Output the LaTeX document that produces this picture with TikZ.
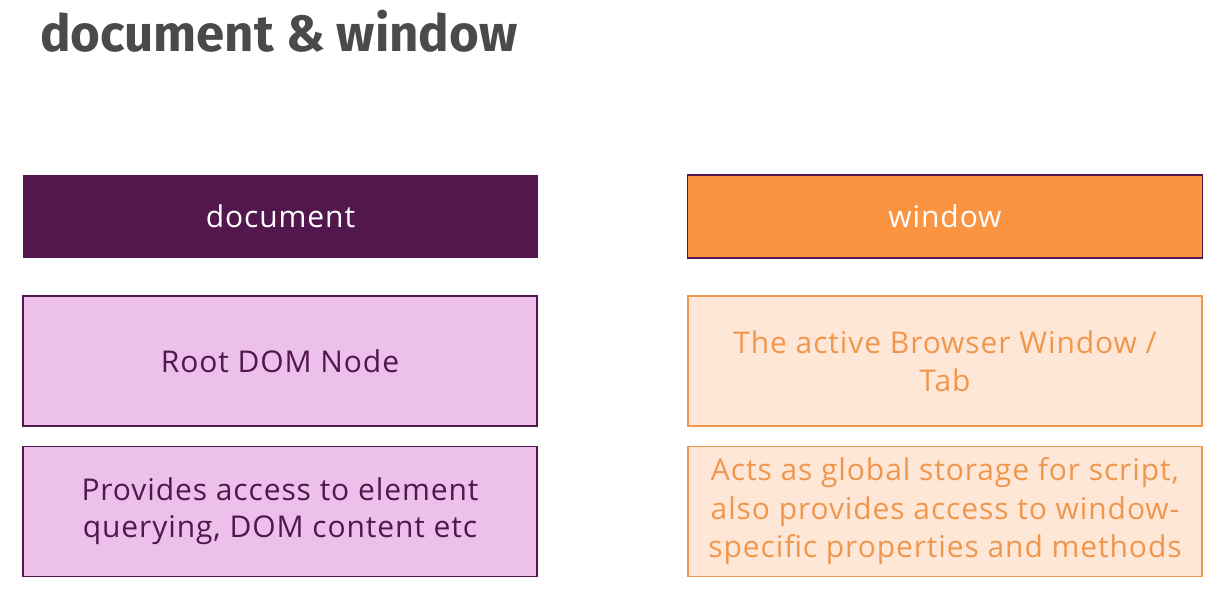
\documentclass[tikz,border=0pt]{standalone}
\usepackage{fontspec}
\setmainfont{Open Sans}[LetterSpace=3]
\newfontfamily\titlefont{Fira Sans}
\usetikzlibrary{positioning}

\definecolor{docpurple}{HTML}{52184E}
\definecolor{docpink}{HTML}{EDC0EB}
\definecolor{winorange}{HTML}{FB9441}
\definecolor{winpeach}{HTML}{FFE7D8}
\definecolor{winline}{HTML}{F0974E}
\definecolor{titlegray}{HTML}{4A4A4A}

\begin{document}
\begin{tikzpicture}[
		x=1pt, y=-1pt,
		title/.style ={font=\titlefont\bfseries\fontsize{51}{55}\selectfont,text=titlegray,anchor=base west,inner sep=0pt},
		header/.style={rectangle,minimum width=515pt,minimum height=83pt,inner sep=0pt,font=\fontsize{30}{34}\selectfont,text=white},
		docbody/.style={rectangle,draw=docpurple,line width=1.5pt,fill=docpink,minimum width=514pt,minimum height=130pt,
			inner sep=0pt,align=center,text=docpurple,font=\fontsize{30}{37}\selectfont},
		winbody/.style={rectangle,draw=winline,line width=1.8pt,fill=winpeach,minimum width=514pt,minimum height=130pt,
			inner sep=0pt,align=center,text=winline,font=\fontsize{30}{38.5}\selectfont}
		]

		% ---- page frame ----
		\useasboundingbox (0,0) rectangle (1224,596);

		% ---- title ----
		\node[title] (heading) at (40,52) {document \& window};

		% ---- column headers ----
		\node[header,fill=docpurple] (dochead) at (280.5,216.5) {document};
		\node[header,fill=winorange,draw=docpurple,line width=1.2pt] (winhead) at (945,216.5) {window};

		% ---- document column ----
		\node[docbody] (docroot)  at (280,361)   {Root DOM Node};
		\node[docbody] (docquery) at (280,511.5) {Provides access to element\\querying, DOM content etc};

		% ---- window column ----
		\node[winbody] (wintab)   at (945,361)   {The active Browser Window /\\Tab};
		\node[winbody] (winstore) at (945,511.5) {Acts as global storage for script,\\also provides access to window-\\specific properties and methods};

	\end{tikzpicture}
\end{document}
